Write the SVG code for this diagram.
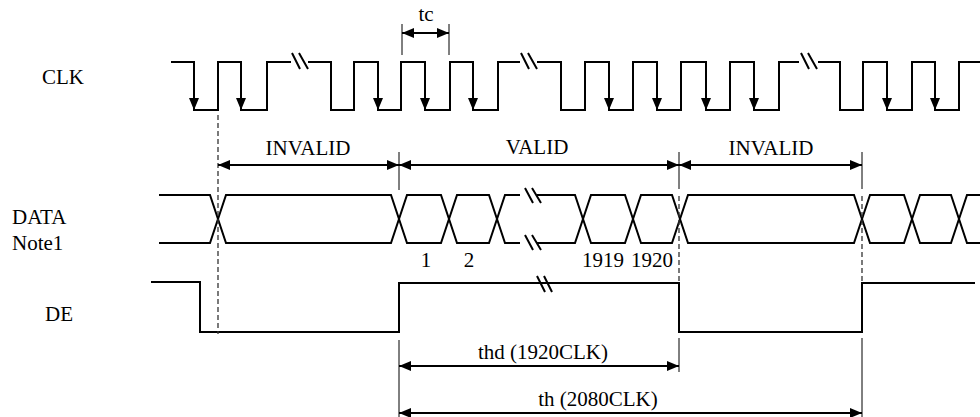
<svg xmlns="http://www.w3.org/2000/svg" xmlns:xlink="http://www.w3.org/1999/xlink" width="980" height="417" viewBox="0 0 980 417" font-family="'Liberation Serif', 'Times New Roman', serif">
  <style>
    .sig { fill: none; stroke: #000; stroke-width: 2; stroke-linejoin: miter; }
    .brk { fill: none; stroke: #000; stroke-width: 2; }
    .dim { fill: none; stroke: #000; stroke-width: 2; }
    .tick { fill: none; stroke: #000; stroke-width: 1; }
    .dash { fill: none; stroke: #333; stroke-width: 1.3; stroke-dasharray: 5 3; }
    text { font-family: 'Liberation Serif', 'Times New Roman', serif; font-size: 21px; fill: #000; }
    .mid { text-anchor: middle; }
  </style>
  <defs>
    <marker id="arr" markerUnits="userSpaceOnUse" markerWidth="12" markerHeight="10" refX="12" refY="5" orient="auto-start-reverse">
      <path d="M0,0 L12,5 L0,10 Z" fill="#000"/>
    </marker>
    <polygon id="ah" points="-5,-12 5,-12 0,0" fill="#000"/>
  </defs>
  <rect width="980" height="417" fill="#fff"/>

  <g id="labels">
    <text x="42" y="84">CLK</text>
    <text x="12" y="224">DATA</text>
    <text x="12" y="250">Note1</text>
    <text x="45" y="321">DE</text>
  </g>

  <g id="clk">
    <path class="sig" d="M171,62 H194 V110 H218 V62 H241 V110 H267 V62 H291 M308,62 H331 V110 H354 V62 H378 V110 H401 V62 H425 V110 H450 V62 H473 V110 H498 V62 H520 M537,62 H561 V110 H585 V62 H609 V110 H633 V62 H657 V110 H681 V62 H706 V110 H730 V62 H754 V110 H779 V62 H799 M818,62 H840 V110 H863 V62 H887 V110 H912 V62 H935 V110 H959 V62 H980"/>
    <path class="brk" d="M292,53 L300,69 M299,53 L308,69 M521,53 L529,69 M528,53 L537,69 M801,53 L809,69 M808,53 L817,69"/>
    <use xlink:href="#ah" x="194" y="110"/>
    <use xlink:href="#ah" x="241" y="110"/>
    <use xlink:href="#ah" x="378" y="110"/>
    <use xlink:href="#ah" x="425" y="110"/>
    <use xlink:href="#ah" x="473" y="110"/>
    <use xlink:href="#ah" x="609" y="110"/>
    <use xlink:href="#ah" x="657" y="110"/>
    <use xlink:href="#ah" x="706" y="110"/>
    <use xlink:href="#ah" x="754" y="110"/>
    <use xlink:href="#ah" x="887" y="110"/>
    <use xlink:href="#ah" x="935" y="110"/>
  </g>

  <g id="data">
    <path class="sig" d="M159,195 H210 L226,243 H391 L407,195 H441 L457,243 H489 L505,195 H520"/>
    <path class="sig" d="M159,243 H210 L226,195 H391 L407,243 H441 L457,195 H489 L505,243 H520"/>
    <path class="sig" d="M537,195 H575 L591,243 H625 L641,195 H672 L688,243 H854 L870,195 H904 L920,243 H951 L967,195 H980"/>
    <path class="sig" d="M537,243 H575 L591,195 H625 L641,243 H672 L688,195 H854 L870,243 H904 L920,195 H951 L967,243 H980"/>
    <path class="brk" d="M525,188 L533,203 M532,188 L541,203 M525,235 L533,250 M532,235 L541,250"/>
    <text class="mid" x="426" y="267">1</text>
    <text class="mid" x="469" y="267">2</text>
    <text class="mid" x="603" y="267">1919</text>
    <text class="mid" x="652" y="267">1920</text>
  </g>

  <g id="de">
    <path class="sig" d="M151,282 H200 V332 H399 V283 H679 V332 H862 V283 H975"/>
    <path class="brk" d="M537,276 L545,292 M544,276 L552,292"/>
  </g>

  <g id="connectors">
    <line class="dash" x1="218" y1="115" x2="218" y2="334"/>
    <line class="dash" x1="679" y1="196" x2="679" y2="282"/>
    <line class="dash" x1="862" y1="196" x2="862" y2="282"/>

    <line class="tick" x1="402" y1="24" x2="402" y2="55"/>
    <line class="tick" x1="449" y1="24" x2="449" y2="55"/>
    <line class="tick" x1="399" y1="152" x2="399" y2="190"/>
    <line class="tick" x1="679" y1="152" x2="679" y2="189"/>
    <line class="tick" x1="862" y1="152" x2="862" y2="189"/>
    <line class="tick" x1="399" y1="340" x2="399" y2="417"/>
    <line class="tick" x1="679" y1="338" x2="679" y2="372"/>
    <line class="tick" x1="862" y1="338" x2="862" y2="417"/>

    <line class="dim" x1="402" y1="33" x2="449" y2="33" marker-start="url(#arr)" marker-end="url(#arr)"/>
    <line class="dim" x1="218" y1="165" x2="399" y2="165" marker-start="url(#arr)" marker-end="url(#arr)"/>
    <line class="dim" x1="399" y1="165" x2="679" y2="165" marker-start="url(#arr)" marker-end="url(#arr)"/>
    <line class="dim" x1="679" y1="165" x2="862" y2="165" marker-start="url(#arr)" marker-end="url(#arr)"/>
    <line class="dim" x1="399" y1="366" x2="679" y2="366" marker-start="url(#arr)" marker-end="url(#arr)"/>
    <line class="dim" x1="399" y1="413" x2="862" y2="413" marker-start="url(#arr)" marker-end="url(#arr)"/>

    <text class="mid" x="426" y="21">tc</text>
    <text class="mid" x="308" y="155">INVALID</text>
    <text class="mid" x="537" y="154">VALID</text>
    <text class="mid" x="771" y="155">INVALID</text>
    <text class="mid" x="543" y="359">thd (1920CLK)</text>
    <text class="mid" x="598" y="406">th (2080CLK)</text>
  </g>
</svg>
